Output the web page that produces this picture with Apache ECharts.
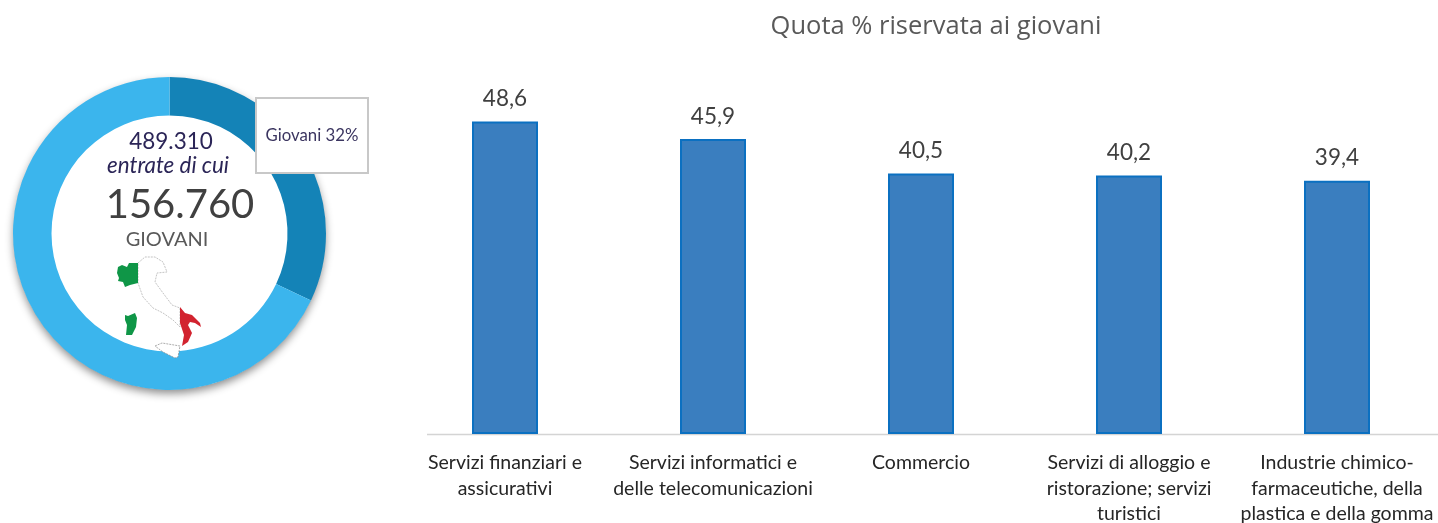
<!DOCTYPE html>
<html>
<head>
<meta charset="utf-8">
<style>
  html, body { margin: 0; padding: 0; background: #fff; }
  #chart { width: 1438px; height: 523px; }
</style>
<script src="https://cdn.jsdelivr.net/npm/echarts@6/dist/echarts.min.js"></script>
</head>
<body>
<div id="chart"></div>
<script>
  const categories = [
    "Servizi finanziari e\nassicurativi",
    "Servizi informatici e\ndelle telecomunicazioni",
    "Commercio",
    "Servizi di alloggio e\nristorazione; servizi\nturistici",
    "Industrie chimico-\nfarmaceutiche, della\nplastica e della gomma",
  ];
  const quotaValues = [48.6, 45.9, 40.5, 40.2, 39.4];
  const ringNames = ["Giovani", "Altre entrate"];
  const ringValues = [156760, 332550];

  const chart = echarts.init(document.getElementById("chart"), undefined, {
    renderer: "canvas",
  });

  // sagoma dell'Italia: solo decorazione, non sono dati
  const green = [[138,263],[133,263],[129,263],[127,267],[122,265],[118,267],[117,273],[119,278],[118,281],[123,282],[125,287],[130,285],[138,283]];
  const sardinia = [[125,315],[128,316],[135,313],[137,318],[136,327],[132,335],[126,335],[127,325],[125,320]];
  const red = [[180,307],[185,313],[192,315],[200,323],[201,327],[195,323],[190,322],[188,325],[192,333],[188,342],[182,346],[184,335],[180,323]];
  const outline = [[138,263],[145,257],[155,257],[163,262],[167,272],[157,273],[155,282],[163,293],[172,305],[180,308],[180,327],[173,320],[163,313],[153,308],[143,297],[138,283]];
  const sicily = [[155,346],[162,343],[180,346],[178,357],[175,358],[163,352]];

  const mapShape = (points, fill, stroke) => ({
    type: "polygon",
    shape: { points },
    style: { fill, stroke, lineWidth: stroke ? 0.7 : 0, lineDash: stroke ? [2, 1] : null },
    z: 20,
  });

  const centerText = (x, y, text, size, color, extra) => ({
    type: "text",
    x,
    y,
    style: Object.assign({
      text,
      fontFamily: "Lato",
      fontSize: size,
      fill: color,
      textAlign: "center",
      textVerticalAlign: "middle",
    }, extra),
    z: 30,
  });

  const option = {
    animation: false,
    backgroundColor: "#fff",
    title: {
      text: "Quota % riservata ai giovani",
      left: 931,
      top: 9,
      textAlign: "center",
      textStyle: {
        fontFamily: "Open Sans",
        fontWeight: "normal",
        fontSize: 25.5,
        color: "#595959",
      },
    },
    // l'asse esce un poco dalla finestra a destra: niente ricalcolo della griglia
    grid: { left: 401, top: 0, width: 1040, height: 434, outerBoundsMode: "none" },
    xAxis: {
      type: "category",
      data: categories,
      axisLine: { show: false },
      axisTick: { show: false },
      axisLabel: {
        interval: 0,
        margin: 16,
        fontFamily: "Lato",
        fontSize: 19.5,
        lineHeight: 25.5,
        color: "#262626",
      },
    },
    yAxis: {
      type: "value",
      min: 0,
      max: 67.5,
      show: false,
    },
    series: [
      {
        type: "bar",
        data: quotaValues,
        barWidth: 66,
        itemStyle: {
          color: "#3a7ebf",
          borderColor: "#0b70c1",
          borderWidth: 2,
        },
        label: {
          show: true,
          position: "top",
          distance: 11,
          fontFamily: "Lato",
          fontSize: 22.5,
          color: "#404040",
          formatter: (p) => p.value.toFixed(1).replace(".", ","),
        },
      },
      {
        type: "pie",
        center: [169.5, 233.5],
        radius: [118, 156.5],
        startAngle: 90,
        clockwise: true,
        silent: true,
        label: { show: false },
        labelLine: { show: false },
        data: ringNames.map((name, i) => ({
          name,
          value: ringValues[i],
          itemStyle: { color: i === 0 ? "#1483b7" : "#3bb5ed" },
        })),
      },
    ],
    graphic: [
      {
        // ombra sotto la corona
        type: "circle",
        shape: { cx: 169.5, cy: 233.5, r: 156 },
        style: {
          fill: "#fff",
          shadowBlur: 9,
          shadowOffsetY: 4,
          shadowColor: "rgba(0,0,0,0.45)",
        },
        z: 0,
      },
      {
        type: "line",
        shape: { x1: 427, y1: 434.5, x2: 1438, y2: 434.5 },
        style: { stroke: "#d4d4d4", lineWidth: 1.5 },
        z: 1,
      },
      {
        type: "rect",
        shape: { x: 256, y: 98, width: 112, height: 75 },
        style: { fill: "#fff", stroke: "#c8c8c8", lineWidth: 2 },
        z: 20,
      },
      centerText(312, 136, "Giovani 32%", 16.8, "#3b3560"),
      centerText(171, 142, "489.310", 22.5, "#2b2557"),
      centerText(168, 166, "entrate di cui", 22.4, "#2b2557", { fontStyle: "italic" }),
      centerText(180, 205, "156.760", 40, "#404040"),
      centerText(167, 240, "GIOVANI", 20, "#595959"),
      mapShape(outline, "#fff", "#aaaaaa"),
      mapShape(sicily, "#fff", "#888888"),
      mapShape(green, "#0f9647"),
      mapShape(sardinia, "#0f9647"),
      mapShape(red, "#d2232f"),
    ],
  };

  chart.setOption(option);
</script>
</body>
</html>
